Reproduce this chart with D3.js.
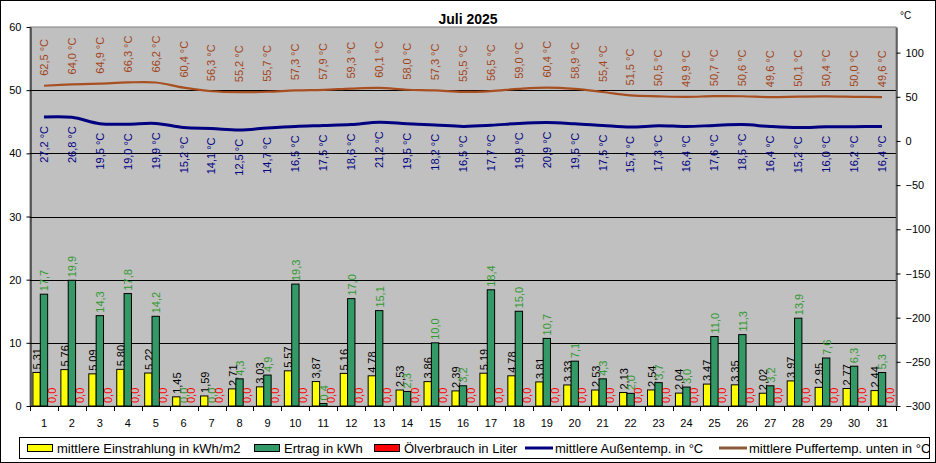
<!DOCTYPE html>
<html>
<head>
<meta charset="utf-8">
<script src="https://cdn.jsdelivr.net/npm/d3@7"></script>
<style>
  body { margin: 0; background: #fff; }
  svg { display: block; font-family: "Liberation Sans", Arial, sans-serif; }
</style>
</head>
<body>
<svg id="chart"></svg>
<script>
// Juli 2025, one entry per day
const days = d3.range(1, 32);
const einstrahlung = [5.31, 5.76, 5.09, 5.80, 5.22, 1.45, 1.59, 2.71, 3.03, 5.57, 3.87, 5.16, 4.78, 2.53, 3.86, 2.39,
                      5.19, 4.78, 3.81, 3.33, 2.53, 2.13, 2.54, 2.04, 3.47, 3.35, 2.02, 3.97, 2.95, 2.77, 2.44];
const ertrag = [17.7, 19.9, 14.3, 17.8, 14.2, 0.0, 0.0, 4.3, 4.9, 19.3, 0.4, 17.0, 15.1, 2.3, 10.0, 3.2,
                18.4, 15.0, 10.7, 7.1, 4.3, 2.0, 3.7, 3.0, 11.0, 11.3, 3.2, 13.9, 7.6, 6.3, 5.3];
const oelverbrauch = [0, 0, 0, 0, 0, 0, 0, 0, 0, 0, 0, 0, 0, 0, 0, 0,
                      0, 0, 0, 0, 0, 0, 0, 0, 0, 0, 0, 0, 0, 0, 0];
const aussentemp = [27.2, 26.8, 19.5, 19.0, 19.9, 15.2, 14.1, 12.5, 14.7, 16.5, 17.5, 18.6, 21.2, 19.5, 18.2, 16.5,
                    17.7, 19.9, 20.9, 19.5, 17.5, 15.7, 17.3, 16.4, 17.6, 18.5, 16.4, 15.2, 16.0, 16.2, 16.4];
const puffertemp = [62.5, 64.0, 64.9, 66.3, 66.2, 60.4, 56.3, 55.2, 55.7, 57.3, 57.9, 59.3, 60.1, 58.0, 57.3, 55.5,
                    56.5, 59.0, 60.4, 58.9, 55.4, 51.5, 50.5, 49.9, 50.7, 50.6, 49.6, 50.1, 50.4, 50.0, 49.6];
const leftTicks = [0, 10, 20, 30, 40, 50, 60];
const rightTicks = [-300, -250, -200, -150, -100, -50, 0, 50, 100];

const W = 936, H = 463;
const plot = {left: 30, right: 896, top: 27, bottom: 406};

const de = d3.formatLocale({decimal: ",", thousands: ".", grouping: [3], currency: ["", " €"]});
const f1 = de.format(".1f");
const f2 = de.format(".2f");

const svg = d3.select("#chart").attr("width", W).attr("height", H);

// outer frame
svg.append("rect")
    .attr("x", 0.5).attr("y", 0.5)
    .attr("width", W - 1).attr("height", H - 1)
    .attr("fill", "#fff").attr("stroke", "#000");

// plot area
svg.append("rect")
    .attr("x", plot.left).attr("y", plot.top)
    .attr("width", plot.right - plot.left).attr("height", plot.bottom - plot.top)
    .attr("fill", "#c0c0c0").attr("stroke", "#808080");

const x = d3.scaleBand().domain(days).range([plot.left, plot.right]).padding(0);
const xs = d3.scaleBand().domain(["e", "r", "o"]).range([0, x.bandwidth()])
    .paddingInner(0).paddingOuter(0.4);
const yl = d3.scaleLinear().domain([0, 60]).range([plot.bottom, plot.top]);
const yr = d3.scaleLinear().domain([-300, 129]).range([plot.bottom, plot.top]);

// grid lines
svg.append("g").selectAll("line")
    .data(leftTicks.filter(d => d > 0 && d < 60))
    .join("line")
    .attr("x1", plot.left).attr("x2", plot.right)
    .attr("y1", d => Math.round(yl(d)) + 0.5).attr("y2", d => Math.round(yl(d)) + 0.5)
    .attr("stroke", "#000");

// bars
const barSeries = [
    {key: "e", values: einstrahlung, fill: "#ffff00", text: "#000", fmt: f2},
    {key: "r", values: ertrag, fill: "#339966", text: "#339933", fmt: f1},
    {key: "o", values: oelverbrauch, fill: "#ff0000", text: "#ff0000", fmt: f1},
];

barSeries.forEach(s => {
    const g = svg.append("g");
    g.selectAll("rect")
        .data(s.values)
        .join("rect")
        .attr("x", (d, i) => x(days[i]) + xs(s.key))
        .attr("y", d => yl(d))
        .attr("width", xs.bandwidth())
        .attr("height", d => yl(0) - yl(d))
        .attr("fill", s.fill)
        .attr("stroke", "#000")
        .attr("stroke-width", d => d > 0 ? 1 : 0);

    g.selectAll("text")
        .data(s.values)
        .join("text")
        .attr("transform", (d, i) => `translate(${x(days[i]) + xs(s.key) + xs.bandwidth() / 2 + 0.5}, ${yl(d) - 3}) rotate(-90)`)
        .attr("dy", "0.35em")
        .style("font-size", "11px")
        .attr("fill", s.text)
        .text(d => s.fmt(d));
});

// temperature lines on right axis
const cx = i => x(days[i]) + x.bandwidth() / 2;
const line = d3.line()
    .x((d, i) => cx(i))
    .y(d => yr(d))
    .curve(d3.curveCatmullRom.alpha(0.5));

svg.append("path")
    .attr("d", line(puffertemp))
    .attr("fill", "none").attr("stroke", "#a84f22").attr("stroke-width", 2.2);

svg.append("path")
    .attr("d", line(aussentemp))
    .attr("fill", "none").attr("stroke", "#000080").attr("stroke-width", 3);

svg.append("g").selectAll("text")
    .data(puffertemp)
    .join("text")
    .attr("transform", (d, i) => `translate(${cx(i)}, ${yr(d) - 10}) rotate(-90)`)
    .attr("dy", "0.35em")
    .style("font-size", "11px")
    .attr("fill", "#a0451c")
    .text(d => f1(d) + " °C");

svg.append("g").selectAll("text")
    .data(aussentemp)
    .join("text")
    .attr("transform", (d, i) => `translate(${cx(i)}, ${yr(d) + 9}) rotate(-90)`)
    .attr("dy", "0.35em")
    .attr("text-anchor", "end")
    .style("font-size", "11px")
    .attr("fill", "#000080")
    .text(d => f1(d) + " °C");

// axes
const xaxis = svg.append("g").attr("transform", `translate(0, ${plot.bottom})`);
xaxis.append("line")
    .attr("x1", plot.left).attr("x2", plot.right)
    .attr("y1", 0.5).attr("y2", 0.5).attr("stroke", "#000");
xaxis.selectAll(".tk")
    .data(d3.range(0, 32))
    .join("line")
    .attr("x1", i => Math.round(plot.left + i * x.step()) + 0.5)
    .attr("x2", i => Math.round(plot.left + i * x.step()) + 0.5)
    .attr("y1", 0).attr("y2", 5).attr("stroke", "#000");
xaxis.selectAll("text")
    .data(days)
    .join("text")
    .attr("x", d => x(d) + x.bandwidth() / 2)
    .attr("y", 21)
    .attr("text-anchor", "middle")
    .style("font-size", "11px")
    .text(d => d);

const leftAxis = d3.axisLeft(yl).tickValues(leftTicks).tickSize(4).tickPadding(5).tickSizeOuter(0);
svg.append("g")
    .attr("transform", `translate(${plot.left + 0.5}, 0)`)
    .call(leftAxis)
    .call(g => g.selectAll("text").style("font-size", "11px").style("font-family", "Liberation Sans, Arial"))
    .call(g => g.select(".domain").attr("stroke", "#000"));

const rightAxis = d3.axisRight(yr).tickValues(rightTicks).tickSize(4).tickPadding(5).tickSizeOuter(0);
svg.append("g")
    .attr("transform", `translate(${plot.right + 0.5}, 0)`)
    .call(rightAxis)
    .call(g => g.selectAll("text").style("font-size", "11px").style("font-family", "Liberation Sans, Arial"))
    .call(g => g.select(".domain").attr("stroke", "#000"));

svg.append("text")
    .attr("x", 900).attr("y", 19)
    .style("font-size", "10px")
    .text("°C");

// title
svg.append("text")
    .attr("x", 468).attr("y", 24)
    .attr("text-anchor", "middle")
    .style("font-size", "14px")
    .style("font-weight", "bold")
    .text("Juli 2025");

// legend
const legend = svg.append("g");
legend.append("rect")
    .attr("x", 19.5).attr("y", 437.5)
    .attr("width", 910).attr("height", 21)
    .attr("fill", "#fff").attr("stroke", "#000");

const legendItems = [
    {label: "mittlere Einstrahlung in kWh/m2", type: "rect", color: "#ffff00", x: 27},
    {label: "Ertrag in kWh", type: "rect", color: "#339966", x: 254},
    {label: "Ölverbrauch in Liter", type: "rect", color: "#ff0000", x: 374},
    {label: "mittlere Außentemp. in °C", type: "line", color: "#000080", x: 525},
    {label: "mittlere Puffertemp. unten in °C", type: "line", color: "#8b5a3c", x: 719},
];

legendItems.forEach(it => {
    if (it.type === "rect") {
        legend.append("rect")
            .attr("x", it.x + 0.5).attr("y", 444.5)
            .attr("width", 25).attr("height", 7)
            .attr("fill", it.color).attr("stroke", "#000");
    } else {
        legend.append("line")
            .attr("x1", it.x).attr("x2", it.x + 28)
            .attr("y1", 448).attr("y2", 448)
            .attr("stroke", it.color).attr("stroke-width", 3);
    }
    legend.append("text")
        .attr("x", it.x + 30).attr("y", 453)
        .style("font-size", "13px")
        .text(it.label);
});
</script>
</body>
</html>
